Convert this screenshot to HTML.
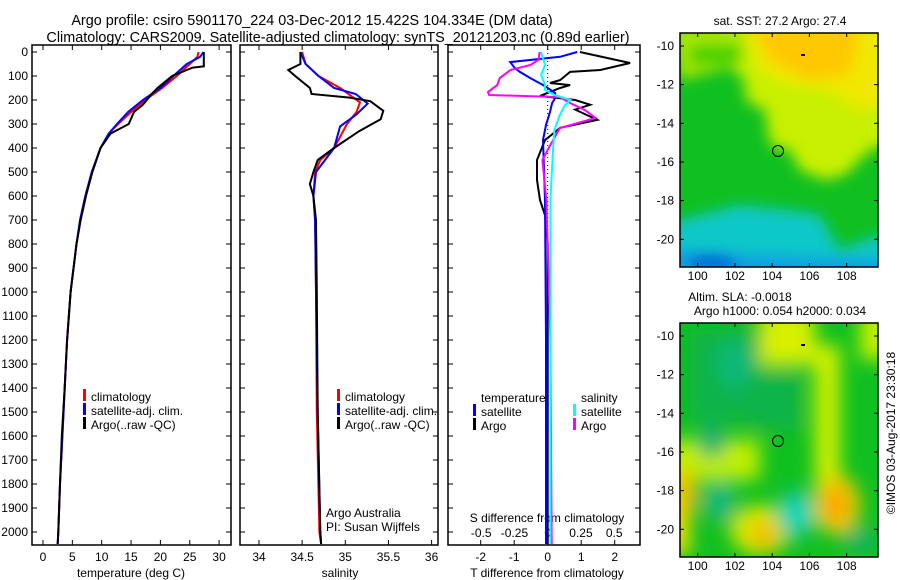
<!DOCTYPE html>
<html><head><meta charset="utf-8"><style>
body{margin:0;background:#fff;}
svg{display:block;font-family:"Liberation Sans",sans-serif;}
text{fill:#000;}
</style></head><body>
<svg id="s" width="900" height="580" viewBox="0 0 900 580" xmlns="http://www.w3.org/2000/svg">
<defs>
<filter id="bl" x="-20%" y="-20%" width="140%" height="140%"><feGaussianBlur stdDeviation="7"/></filter>
<filter id="bl2" x="-30%" y="-30%" width="160%" height="160%"><feGaussianBlur stdDeviation="9"/></filter>
<clipPath id="c1"><rect x="680" y="33" width="198" height="234"/></clipPath>
<clipPath id="c2"><rect x="680" y="323" width="198" height="234"/></clipPath>
</defs>
<text x="312" y="25" font-size="14.4" text-anchor="middle">Argo profile: csiro 5901170_224 03-Dec-2012 15.422S 104.334E (DM data)</text>
<text x="338" y="42" font-size="14.4" text-anchor="middle">Climatology: CARS2009. Satellite-adjusted climatology: synTS_20121203.nc (0.89d earlier)</text>

<g>
<text x="780" y="25" font-size="12" text-anchor="middle">sat. SST: 27.2 Argo: 27.4</text>
<g clip-path="url(#c1)">
<rect x="680" y="33" width="198" height="234" fill="#10c020"/>
<g filter="url(#bl)">
<polygon points="720,20 900,20 900,140 870,150 860,160 845,175 825,180 800,170 790,150 770,145 765,110 745,100 745,80 720,60" fill="#c8f000"/>
<polygon points="740,20 900,20 900,100 860,110 830,90 790,85 760,70" fill="#f0e800"/>
<polygon points="750,25 860,25 850,75 810,80 770,60" fill="#ffc800"/>
<polygon points="670,25 745,25 745,60 720,70 680,80" fill="#a8e800"/>
<polygon points="690,45 740,45 740,65 690,65" fill="#40d000"/>
<polygon points="660,225 740,205 790,210 820,215 840,250 878,235 900,240 900,290 660,290" fill="#10c8c8"/>
<polygon points="660,248 760,255 900,260 900,290 660,290" fill="#10a0e0"/>
<ellipse cx="712" cy="262" rx="25" ry="8" fill="#0060d8"/>
</g>
</g>
<rect x="680" y="33" width="198" height="234" fill="none" stroke="#000" stroke-width="1.5"/>
<circle cx="778" cy="151" r="5.5" fill="none" stroke="#000" stroke-width="1"/>
<rect x="801" y="54" width="4" height="2" fill="#000"/>
</g>

<g>
<text x="740" y="301" font-size="12" text-anchor="middle">Altim. SLA: -0.0018</text>
<text x="780" y="315" font-size="12" text-anchor="middle">Argo h1000: 0.054 h2000: 0.034</text>
<g clip-path="url(#c2)">
<rect x="680" y="323" width="198" height="234" fill="#10c020"/>
<g filter="url(#bl2)">
<rect x="690" y="330" width="70" height="90" fill="#10b448"/>
<rect x="750" y="370" width="50" height="60" fill="#10b448"/>
<rect x="760" y="310" width="55" height="55" fill="#d8f000"/>
<rect x="815" y="345" width="25" height="180" fill="#d0f000"/>
<rect x="860" y="310" width="30" height="50" fill="#c8f000"/>
<rect x="660" y="440" width="100" height="40" fill="#c0ee00"/>
<rect x="660" y="475" width="30" height="80" fill="#e8e000"/>
<ellipse cx="685" cy="495" rx="12" ry="25" fill="#f0c000"/>
<ellipse cx="760" cy="530" rx="30" ry="25" fill="#d8e800"/>
<ellipse cx="765" cy="535" rx="15" ry="15" fill="#f0c000"/>
<ellipse cx="838" cy="505" rx="22" ry="30" fill="#f0c800"/>
<ellipse cx="836" cy="505" rx="10" ry="15" fill="#ff9a00"/>
<ellipse cx="796" cy="514" rx="18" ry="25" fill="#10c8a0"/>
<ellipse cx="796" cy="514" rx="8" ry="12" fill="#10e0c8"/>
<ellipse cx="720" cy="502" rx="15" ry="20" fill="#10b880"/>
<ellipse cx="735" cy="364" rx="18" ry="25" fill="#10b878"/>
<ellipse cx="712" cy="440" rx="14" ry="18" fill="#10b070"/>
<ellipse cx="860" cy="540" rx="15" ry="12" fill="#10b070"/>
<ellipse cx="840" cy="580" rx="60" ry="10" fill="#c0ee00"/>
</g>
</g>
<rect x="680" y="323" width="198" height="234" fill="none" stroke="#000" stroke-width="1.5"/>
<circle cx="778" cy="441" r="5.5" fill="none" stroke="#000" stroke-width="1"/>
<rect x="801" y="344" width="4" height="2" fill="#000"/>
</g>
<text transform="translate(895,433) rotate(-90)" font-size="12" text-anchor="middle">©IMOS 03-Aug-2017 23:30:18</text>
</svg>
<script>
// ---------- data ----------
var depthTicks=[0,100,200,300,400,500,600,700,800,900,1000,1100,1200,1300,1400,1500,1600,1700,1800,1900,2000];
var tempTicks=[0,5,10,15,20,25,30];
var salTicks=[34,34.5,35,35.5,36];
var salTickLabels=["34","34.5","35","35.5","36"];
var tdTicks=[-2,-1,0,1,2];
var sdTicks=[-0.5,-0.25,0,0.25,0.5];
var sdTickLabels=["-0.5","-0.25","0","0.25","0.5"];
var mapLonTicks=[100,102,104,106,108];
var mapLatTicks=[-10,-12,-14,-16,-18,-20];

var tDepthArgo=[0,60,65,100,150,175,200,220,250,300,340,400,500,600,700,800,1000,1200,1400,1600,1800,2000,2050];
var tArgo=[27.4,27.4,25.5,22.0,19.5,18.5,17.7,17.0,15.5,14.6,11.5,9.8,8.4,7.3,6.4,5.7,4.7,4.1,3.7,3.2,2.9,2.6,2.5];
var tDepthClim=[0,20,50,100,150,200,250,300,340,400,500,600,700,800,1000,1200,1400,1600,1800,2000,2050];
var tClim=[26.5,26.3,25.0,22.8,20.3,17.4,15.0,12.8,11.2,9.8,8.4,7.3,6.4,5.7,4.7,4.1,3.7,3.3,2.9,2.6,2.5];
var tSat=[27.3,26.8,24.5,22.2,20.0,17.0,14.5,12.6,11.2,9.8,8.3,7.2,6.3,5.7,4.7,4.1,3.7,3.3,2.9,2.6,2.5];

var sDepthArgo=[0,50,75,100,150,175,190,205,245,280,330,400,450,500,550,600,700,1000,1500,2000,2050];
var sArgo=[34.48,34.48,34.34,34.42,34.59,34.61,35.05,35.29,35.44,35.41,35.16,34.87,34.68,34.63,34.59,34.63,34.66,34.67,34.68,34.71,34.72];
var sDepthClim=[0,50,100,150,210,250,300,400,450,500,600,700,1000,1500,2000,2050];
var sClim=[34.50,34.54,34.69,34.94,35.17,35.13,35.02,34.87,34.71,34.65,34.63,34.65,34.66,34.67,34.70,34.72];
var sDepthSat=[0,50,100,150,175,215,260,310,400,500,600,700,1000,1500,2000,2050];
var sSat=[34.48,34.54,34.69,34.87,35.12,35.26,35.13,34.94,34.87,34.66,34.63,34.65,34.66,34.68,34.71,34.72];

var dDepthTA=[0,46,75,83,117,129,138,150,183,200,220,240,283,316,367,450,533,617,680,800,1200,2050];
var dTArgo=[0.96,2.46,1.57,0.67,0.37,0.07,0.67,0.37,-0.23,0.82,1.27,0.82,1.48,0.37,-0.08,-0.32,-0.32,-0.23,-0.08,0.0,0.0,0.0];
var dDepthTS=[0,20,42,67,83,108,142,171,192,213,250,304,367,617,1200,2050];
var dTSat=[0.88,0.37,-1.12,-0.98,-0.83,-0.53,-0.08,0.22,0.22,0.13,0.07,-0.05,-0.14,-0.08,-0.05,-0.05];
var dDepthSA=[0,33,54,75,108,138,167,179,188,213,242,275,317,408,450,617,1200,2050];
var dSArgo=[-0.06,-0.07,-0.13,-0.28,-0.36,-0.38,-0.45,-0.44,0.09,0.17,0.28,0.36,0.09,0.0,-0.04,-0.01,0.02,0.03];
var dDepthSS=[0,54,96,138,158,179,200,221,263,325,408,617,1200,2050];
var dSSat=[-0.05,-0.02,-0.05,-0.02,-0.02,0.05,0.17,0.13,0.09,0.05,0.04,0.02,0.02,0.02];

// ---------- helpers ----------
var S=document.getElementById('s'),NS='http://www.w3.org/2000/svg';
function mk(tag,attrs,parent){var e=document.createElementNS(NS,tag);for(var k in attrs)e.setAttribute(k,attrs[k]);(parent||S).appendChild(e);return e;}
function yD(d){return 52+d*0.24;}
var TOP=45,BOT=545;
function xT(t){return 43+t*5.87;}
function xS(s){return 259+(s-34)*86.3;}
function xTD(d){return 547.7+d*33.5;}
function xSD(s){return 547.7+s*133;}
function poly(xs,ds,fx,color,name){
  var p=[];for(var i=0;i<xs.length;i++)p.push(fx(xs[i]).toFixed(1)+','+yD(ds[i]).toFixed(1));
  var e=mk('polyline',{points:p.join(' '),fill:'none',stroke:color,'stroke-width':2});
  
  
}
function txt(x,y,s,anchor,size,name){var e=mk('text',{x:x,y:y,'font-size':size||12,'text-anchor':anchor||'start'});e.textContent=s;
  
  return e;}
function frame(x0,x1,name){var e=mk('rect',{x:x0,y:TOP,width:x1-x0,height:BOT-TOP,fill:'none',stroke:'#000','stroke-width':1.5});
  
  }
function dTicks(x0,x1){for(var i=0;i<depthTicks.length;i++){var y=yD(depthTicks[i]);mk('line',{x1:x0,y1:y,x2:x0+5,y2:y,stroke:'#000'});mk('line',{x1:x1,y1:y,x2:x1-5,y2:y,stroke:'#000'});}}
function xTicks(arr,labels,fx,ly,name,top){for(var i=0;i<arr.length;i++){var x=fx(arr[i]);mk('line',{x1:x,y1:BOT,x2:x,y2:BOT-5,stroke:'#000'});if(top)mk('line',{x1:x,y1:TOP,x2:x,y2:TOP+5,stroke:'#000'});if(labels)txt(x,ly,labels[i],'middle',12,name);}}
function legendMark(x,y,c){mk('rect',{x:x,y:y-10,width:3,height:12,fill:c});}

// panel 1 temperature
frame(32,231,'temperature-panel');
dTicks(32,231);
for(var i=0;i<depthTicks.length;i++)txt(28,yD(depthTicks[i])+4,String(depthTicks[i]),'end',12,'depth-tick-label');
xTicks(tempTicks,tempTicks.map(String),xT,561,'temperature-tick-label',true);
txt(131,577,'temperature (deg C)','middle',12,'temperature-axis-title');
poly(tClim,tDepthClim,xT,'#ff0000','temperature-climatology-line');
poly(tSat,tDepthClim,xT,'#0000ff','temperature-satellite-line');
poly(tArgo,tDepthArgo,xT,'#000000','temperature-argo-line');
var legNames=['climatology','satellite-adj. clim.','Argo(..raw -QC)'],legCols=['#ff0000','#0000ff','#000000'];
for(i=0;i<3;i++){legendMark(83,399+i*14,legCols[i]);txt(91,401+i*14,legNames[i],'start',12,'temperature-legend-entry');}

// panel 2 salinity
frame(240,438,'salinity-panel');
dTicks(240,438);
xTicks(salTicks,salTickLabels,xS,561,'salinity-tick-label',true);
txt(340,577,'salinity','middle',12,'salinity-axis-title');
poly(sClim,sDepthClim,xS,'#ff0000','salinity-climatology-line');
poly(sSat,sDepthSat,xS,'#0000ff','salinity-satellite-line');
poly(sArgo,sDepthArgo,xS,'#000000','salinity-argo-line');
for(i=0;i<3;i++){legendMark(337,399+i*14,legCols[i]);txt(345,401+i*14,legNames[i],'start',12,'salinity-legend-entry');}
txt(326,517,'Argo Australia','start',12,'credit-argo-australia');
txt(326,531,'PI: Susan Wijffels','start',12,'credit-pi');

// panel 3 differences
frame(448,640,'difference-panel');
dTicks(448,640);
xTicks(tdTicks,tdTicks.map(String),xTD,561,'t-diff-tick-label',true);
for(i=0;i<sdTicks.length;i++)txt(xSD(sdTicks[i]),537,sdTickLabels[i],'middle',12,'s-diff-tick-label');
txt(547,522,'S difference from climatology','middle',12,'s-diff-axis-title');
txt(547,577,'T difference from climatology','middle',12,'t-diff-axis-title');
var zl=mk('line',{x1:xTD(0),y1:TOP,x2:xTD(0),y2:BOT,stroke:'#000','stroke-dasharray':'1,3'});


poly(dTArgo,dDepthTA,xTD,'#000000','t-diff-argo-line');
poly(dTSat,dDepthTS,xTD,'#0000ff','t-diff-satellite-line');
poly(dSArgo,dDepthSA,xSD,'#ff00ff','s-diff-argo-line');
poly(dSSat,dDepthSS,xSD,'#00ffff','s-diff-satellite-line');
txt(481,402,'temperature','start',12,'legend-temperature-header');
txt(581,402,'salinity','start',12,'legend-salinity-header');
legendMark(473,414,'#0000ff');txt(481,416,'satellite','start',12,'legend-t-satellite');
legendMark(473,428,'#000000');txt(481,430,'Argo','start',12,'legend-t-argo');
legendMark(573,414,'#00ffff');txt(581,416,'satellite','start',12,'legend-s-satellite');
legendMark(573,428,'#ff00ff');txt(581,430,'Argo','start',12,'legend-s-argo');

// map axes
function lonX(l){return 697.7+(l-100)*18.62;}
function latY(l,y10){return y10+(-10-l)*19.33;}
[[46,267,280],[336,557,570]].forEach(function(m,k){
  for(var j=0;j<mapLonTicks.length;j++){var x=lonX(mapLonTicks[j]);mk('line',{x1:x,y1:m[1],x2:x,y2:m[1]-4,stroke:'#000'});mk('line',{x1:x,y1:m[1]-234,x2:x,y2:m[1]-230,stroke:'#000'});txt(x,m[2],String(mapLonTicks[j]),'middle',12,'map-lon-tick-label');}
  for(j=0;j<mapLatTicks.length;j++){var y=latY(mapLatTicks[j],m[0]);mk('line',{x1:680,y1:y,x2:684,y2:y,stroke:'#000'});mk('line',{x1:878,y1:y,x2:874,y2:y,stroke:'#000'});txt(674,y+4,String(mapLatTicks[j]),'end',12,'map-lat-tick-label');}
});
</script>
</body></html>
